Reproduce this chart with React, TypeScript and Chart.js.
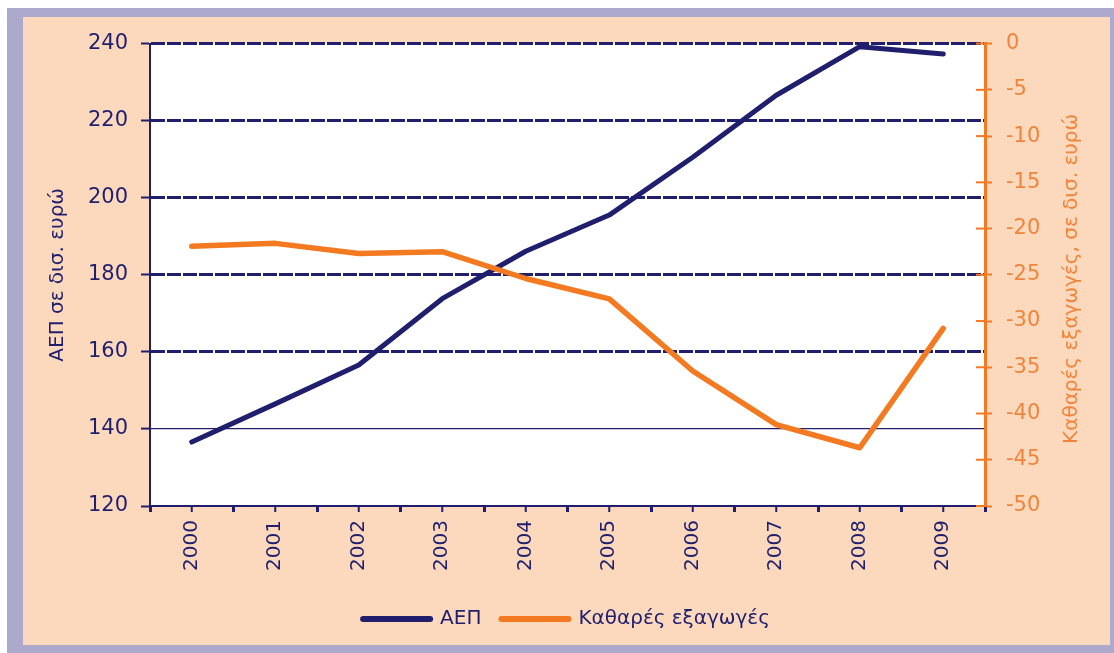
import React, { useEffect, useRef } from "react";
import { Chart, registerables } from "chart.js";

Chart.register(...registerables);

const years = ["2000", "2001", "2002", "2003", "2004", "2005", "2006", "2007", "2008", "2009"];
const gdp = [136.6, 146.5, 156.6, 173.8, 186.1, 195.5, 210.5, 226.6, 239.2, 237.3];
const netExports = [-21.9, -21.6, -22.7, -22.5, -25.4, -27.6, -35.4, -41.2, -43.7, -30.8];

const gdpLabel = "ΑΕΠ";
const netLabel = "Καθαρές εξαγωγές";
const leftTitle = "ΑΕΠ σε δισ. ευρώ";
const rightTitle = "Καθαρές εξαγωγές, σε δισ. ευρώ";

const NAVY = "#211f6d";
const ORANGE = "#f47a22";
const ORANGE_TEXT = "#f0843a";
const PEACH = "#fcd9bd";
const LAVENDER = "#aca9cc";
const FONT = "'DejaVu Sans', Verdana, sans-serif";

const extras = {
  id: "extras",
  beforeDraw(chart: any) {
    const { ctx, chartArea } = chart;
    ctx.save();
    ctx.fillStyle = "#ffffff";
    ctx.fillRect(chartArea.left, chartArea.top, chartArea.right - chartArea.left, chartArea.bottom - chartArea.top);
    ctx.restore();
  },
  afterDraw(chart: any) {
    const { ctx } = chart;
    const x = chart.scales.x;
    const y1 = chart.scales.y1;
    ctx.save();
    // inner part of right-axis tick marks
    ctx.strokeStyle = ORANGE;
    ctx.lineWidth = 2;
    y1.ticks.forEach((_t: any, i: number) => {
      const py = y1.getPixelForTick(i);
      ctx.beginPath();
      ctx.moveTo(y1.left - 9, py);
      ctx.lineTo(y1.left, py);
      ctx.stroke();
    });
    // category-centre tick marks on the x axis
    ctx.strokeStyle = NAVY;
    ctx.lineWidth = 2;
    x.ticks.forEach((_t: any, i: number) => {
      const px = x.getPixelForTick(i);
      ctx.beginPath();
      ctx.moveTo(px, x.top);
      ctx.lineTo(px, x.top + 6);
      ctx.stroke();
    });
    // right axis title, reading bottom-to-top
    ctx.fillStyle = ORANGE_TEXT;
    ctx.font = `20px ${FONT}`;
    ctx.textAlign = "center";
    ctx.textBaseline = "middle";
    ctx.translate(y1.right - 38, (chart.chartArea.top + chart.chartArea.bottom) / 2 + 4);
    ctx.rotate(-Math.PI / 2);
    ctx.fillText(rightTitle, 0, 0);
    ctx.restore();
  },
};

export default function App() {
  const ref = useRef<HTMLCanvasElement>(null);

  useEffect(() => {
    if (!ref.current) return;
    const chart = new Chart(ref.current, {
      type: "line",
      data: {
        labels: years,
        datasets: [
          {
            label: gdpLabel,
            data: gdp,
            borderColor: NAVY,
            backgroundColor: NAVY,
            borderWidth: 5,
            pointRadius: 0,
            tension: 0,
            borderCapStyle: "round",
            borderJoinStyle: "round",
            yAxisID: "y",
            order: 1,
          },
          {
            label: netLabel,
            data: netExports,
            borderColor: ORANGE,
            backgroundColor: ORANGE,
            borderWidth: 5.5,
            pointRadius: 0,
            tension: 0,
            borderCapStyle: "round",
            borderJoinStyle: "round",
            yAxisID: "y1",
            order: 0,
          },
        ],
      },
      options: {
        animation: false,
        responsive: false,
        maintainAspectRatio: false,
        layout: { padding: { top: 23, bottom: 6, left: 0, right: 0 } },
        plugins: {
          tooltip: { enabled: false },
          legend: {
            position: "bottom",
            labels: {
              usePointStyle: true,
              pointStyleWidth: 67,
              padding: 20,
              color: NAVY,
              font: { family: FONT, size: 20 },
              generateLabels: () => [
                { text: gdpLabel, fillStyle: NAVY, strokeStyle: NAVY, lineWidth: 6, lineCap: "round", pointStyle: "line", hidden: false, datasetIndex: 0, fontColor: NAVY } as any,
                { text: netLabel, fillStyle: ORANGE, strokeStyle: ORANGE, lineWidth: 6, lineCap: "round", pointStyle: "line", hidden: false, datasetIndex: 1, fontColor: NAVY } as any,
              ],
            },
          },
        },
        scales: {
          x: {
            type: "category",
            offset: true,
            afterFit: (s: any) => { s.height = 83; },
            grid: {
              offset: true,
              drawOnChartArea: false,
              tickLength: 6,
              tickWidth: 3,
              tickColor: NAVY,
            },
            border: { color: NAVY, width: 2 },
            ticks: {
              minRotation: 90,
              maxRotation: 90,
              padding: 8,
              color: NAVY,
              font: { family: FONT, size: 20 },
            },
          },
          y: {
            position: "left",
            min: 120,
            max: 240,
            afterFit: (s: any) => { s.width = 127; },
            ticks: {
              stepSize: 20,
              padding: 13,
              color: NAVY,
              font: { family: FONT, size: 21 },
            },
            grid: {
              color: (c: any) => (c.tick && c.tick.value === 120 ? "rgba(0,0,0,0)" : NAVY),
              lineWidth: (c: any) => (c.tick && c.tick.value === 140 ? 1.2 : 3),
              tickLength: 9,
              tickWidth: 2,
              tickColor: NAVY,
              tickBorderDash: [],
            },
            border: {
              color: NAVY,
              width: 2,
              dash: (c: any) => (c.tick && c.tick.value >= 160 ? [14, 2] : []),
            },
            title: {
              display: true,
              text: leftTitle,
              color: NAVY,
              font: { family: FONT, size: 20 },
              padding: { top: 23, bottom: 0 },
            },
          },
          y1: {
            position: "right",
            min: -50,
            max: 0,
            afterFit: (s: any) => { s.width = 125; },
            ticks: {
              stepSize: 5,
              padding: 14,
              color: ORANGE_TEXT,
              font: { family: FONT, size: 21 },
            },
            grid: {
              drawOnChartArea: false,
              tickLength: 7,
              tickWidth: 2,
              tickColor: ORANGE,
            },
            border: { color: ORANGE, width: 3 },
          },
        },
      },
      plugins: [extras],
    } as any);
    return () => chart.destroy();
  }, []);

  return (
    <div style={{ position: "absolute", left: 0, top: 0, width: 1114, height: 653, background: "#ffffff" }}>
      <div style={{ position: "absolute", left: 7, top: 8, width: 1107, height: 645, background: LAVENDER }} />
      <div style={{ position: "absolute", left: 23, top: 17, width: 1087, height: 628, background: PEACH }}>
        <canvas ref={ref} width={1087} height={628} style={{ display: "block", width: 1087, height: 628 }} />
      </div>
    </div>
  );
}
